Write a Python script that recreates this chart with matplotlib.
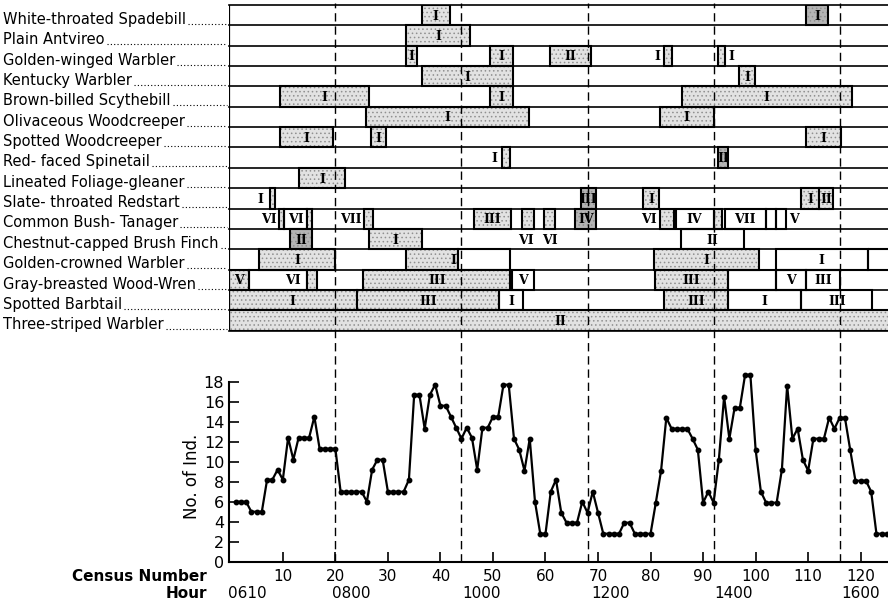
import matplotlib
matplotlib.use("Agg")
import matplotlib.pyplot as plt
from matplotlib.patches import Rectangle
from matplotlib.lines import Line2D
from matplotlib import transforms

plt.rcParams['hatch.linewidth'] = 0.6

# Species (top panel rows, top to bottom)
species = ["White-throated Spadebill", "Plain Antvireo", "Golden-winged Warbler",
           "Kentucky Warbler", "Brown-billed Scythebill", "Olivaceous Woodcreeper",
           "Spotted Woodcreeper", "Red- faced Spinetail", "Lineated Foliage-gleaner",
           "Slate- throated Redstart", "Common Bush- Tanager", "Chestnut-capped Brush Finch",
           "Golden-crowned Warbler", "Gray-breasted Wood-Wren", "Spotted Barbtail",
           "Three-striped Warbler"]

# flock membership per species: (first census, last census, flock type, shading)
# shading: g = stippled, d = dark stipple, w = open
spadebill = [(36.4, 41.8, 'I', 'g'), (109.6, 113.8, 'I', 'd')]
antvireo = [(33.4, 45.7, 'I', 'g')]
golden_winged = [(33.4, 35.6, 'I', 'g'), (49.5, 53.8, 'I', 'g'), (60.8, 68.7, 'II', 'g'),
                 (82.6, 84.0, '', 'g'), (92.9, 94.1, '', 'g')]
kentucky = [(36.4, 53.8, 'I', 'g'), (96.9, 99.9, 'I', 'g')]
scythebill = [(9.4, 26.4, 'I', 'g'), (49.5, 53.8, 'I', 'g'), (85.9, 118.3, 'I', 'g')]
olivaceous = [(25.9, 56.9, 'I', 'g'), (81.8, 92.0, 'I', 'g')]
spotted_wc = [(9.5, 19.5, 'I', 'g'), (26.8, 29.7, 'I', 'g'), (109.6, 116.2, 'I', 'g')]
spinetail = [(51.7, 53.3, '', 'g'), (92.9, 94.8, 'II', 'd')]
foliage_gleaner = [(13.0, 21.9, 'I', 'g')]
redstart = [(7.5, 8.5, '', 'g'), (66.7, 69.7, 'III', 'd'), (78.6, 81.6, 'I', 'g'),
            (108.7, 112.1, 'I', 'g'), (112.1, 114.7, 'II', 'g')]
bush_tanager = [(9.2, 10.3, '', 'g'), (10.3, 14.6, 'VI', 'w'), (14.6, 15.5, '', 'g'),
                (25.5, 27.2, '', 'g'), (46.4, 53.4, 'III', 'g'), (55.5, 57.8, '', 'g'),
                (59.7, 61.9, '', 'g'), (65.7, 69.7, 'IV', 'd'), (81.8, 84.5, '', 'g'),
                (84.8, 92.0, 'IV', 'w'), (92.0, 93.6, '', 'g'), (94.1, 101.9, 'VII', 'w'),
                (101.9, 103.8, '', 'w'), (103.8, 105.7, '', 'w')]
brush_finch = [(11.4, 15.5, 'II', 'd'), (26.4, 36.4, 'I', 'g'), (85.8, 97.7, 'II', 'w')]
golden_crowned = [(5.4, 20.0, 'I', 'g'), (33.4, 43.3, '', 'g'), (43.3, 53.3, '', 'w'),
                  (80.7, 100.7, 'I', 'g'), (103.8, 121.3, 'I', 'w'), (121.3, 126.0, '', 'w')]
wood_wren = [(-0.3, 3.6, 'V', 'g'), (3.6, 14.6, '', 'w'), (14.6, 16.5, '', 'g'),
             (25.3, 53.3, 'III', 'g'), (53.6, 57.8, 'V', 'w'), (80.8, 94.7, 'III', 'g'),
             (94.7, 103.8, '', 'w'), (103.8, 109.6, 'V', 'w'), (109.6, 116.0, 'III', 'w')]
barbtail = [(-0.3, 24.1, 'I', 'g'), (24.1, 51.2, 'III', 'g'), (51.2, 55.7, 'I', 'w'),
            (82.6, 94.8, 'III', 'g'), (94.8, 108.7, 'I', 'w'), (108.7, 122.2, 'III', 'w')]
three_striped = [(-0.3, 126.0, 'II', 'g')]

rows = [spadebill, antvireo, golden_winged, kentucky, scythebill, olivaceous, spotted_wc,
        spinetail, foliage_gleaner, redstart, bush_tanager, brush_finch, golden_crowned,
        wood_wren, barbtail, three_striped]

# flock labels written beside narrow boxes: (row, census, label)
side_labels = [(2, 81.2, 'I'), (2, 95.3, 'I'), (7, 50.3, 'I'), (9, 5.8, 'I'),
               (10, 7.3, 'VI'), (10, 22.9, 'VII'), (10, 79.6, 'VI'), (10, 107.3, 'V'),
               (11, 56.3, 'VI'), (11, 60.8, 'VI'), (12, 42.5, 'I'), (13, 12.0, 'VI')]

# bottom panel: number of individuals per census
census = list(range(1, 126))
individuals = [6.0, 6.0, 6.0, 5.0, 5.0, 5.0, 8.2, 8.2, 9.2, 8.2,
               12.4, 10.2, 12.4, 12.4, 12.4, 14.5, 11.3, 11.3, 11.3, 11.3,
               7.0, 7.0, 7.0, 7.0, 7.0, 6.0, 9.2, 10.2, 10.2, 7.0,
               7.0, 7.0, 7.0, 8.2, 16.7, 16.7, 13.3, 16.7, 17.7, 15.6,
               15.6, 14.5, 13.4, 12.3, 13.4, 12.4, 9.2, 13.4, 13.4, 14.5,
               14.5, 17.7, 17.7, 12.3, 11.2, 9.1, 12.3, 6.0, 2.8, 2.8,
               7.0, 8.2, 4.9, 3.9, 3.9, 3.9, 6.0, 4.9, 7.0, 4.9,
               2.8, 2.8, 2.8, 2.8, 3.9, 3.9, 2.8, 2.8, 2.8, 2.8,
               5.9, 9.1, 14.4, 13.3, 13.3, 13.3, 13.3, 12.3, 11.2, 5.9,
               7.0, 5.9, 10.2, 16.5, 12.3, 15.4, 15.4, 18.7, 18.7, 11.2,
               7.0, 5.9, 5.9, 5.9, 9.2, 17.6, 12.3, 13.3, 10.2, 9.1,
               12.3, 12.3, 12.3, 14.4, 13.3, 14.4, 14.4, 11.2, 8.1, 8.1,
               8.1, 7.0, 2.8, 2.8, 2.8]

hour_marks = [20, 44, 68, 92, 116]
hour_pos = [-0.4, 19.4, 44.1, 68.8, 92.1, 116.4]
hour_labels = ['0610', '0800', '1000', '1200', '1400', '1600']

W, H = 888, 605


def fx(px):
    return px / W


def fy(py):
    return 1 - py / H


fig = plt.figure(figsize=(8.88, 6.05), dpi=100)
xlo, xhi = -0.25, 125.2

# top panel
ax1 = fig.add_axes([fx(229), fy(330.7), fx(888) - fx(229), fy(5) - fy(330.7)])
ax1.set_xlim(xlo, xhi)
ax1.set_ylim(16, 0)
ax1.axis('off')
for i in range(17):
    ax1.plot([xlo, xhi], [i, i], color='k', lw=1.2, clip_on=False)
ax1.plot([xlo, xlo], [0, 16], color='k', lw=1.6)

fills = {'g': '#e2e2e2', 'd': '#b4b4b4', 'w': 'white'}
roman = dict(family='DejaVu Serif', fontweight='bold', fontsize=9)
for i, segs in enumerate(rows):
    for s, e, lab, kind in segs:
        if kind != 'w':
            ax1.add_patch(Rectangle((s, i), e - s, 1, facecolor=fills[kind],
                                    edgecolor='#909090', hatch='....', lw=0))
        ax1.add_patch(Rectangle((s, i), e - s, 1, fill=False, edgecolor='k', lw=1.5))
        if lab:
            ax1.text((s + e) / 2, i + 0.55, lab, ha='center', va='center', **roman)
for i, c, lab in side_labels:
    ax1.text(c, i + 0.55, lab, ha='center', va='center', **roman)

# species names with dotted leaders
blend1 = transforms.blended_transform_factory(fig.transFigure, ax1.transData)
names = []
for i, name in enumerate(species):
    names.append(fig.text(fx(3), i + 0.93, name, transform=blend1, ha='left',
                          va='baseline', fontsize=10.5))

# bottom panel
ax2 = fig.add_axes([fx(229), fy(561.7), fx(888) - fx(229), fy(381.7) - fy(561.7)])
ax2.plot(census, individuals, color='k', lw=1.6, marker='o', ms=3.2, clip_on=False)
ax2.set_xlim(xlo, xhi)
ax2.set_ylim(0, 18)
ax2.spines['top'].set_visible(False)
ax2.spines['right'].set_visible(False)
ax2.spines['left'].set_linewidth(1.5)
ax2.spines['bottom'].set_linewidth(1.5)
ax2.set_xticks(range(10, 121, 10))
ax2.set_yticks(range(0, 19, 2))
ax2.tick_params(direction='in', length=7, width=1.2)
ax2.tick_params(axis='x', pad=5, labelsize=11)
ax2.tick_params(axis='y', labelsize=11.5)
fig.text(fx(192), fy(476.7), 'No. of Ind.', rotation=90, ha='center', va='center', fontsize=12)

blend2 = transforms.blended_transform_factory(ax2.transData, fig.transFigure)
for h in hour_marks:
    ax2.add_line(Line2D([h, h], [fy(561.7), fy(3)], transform=blend2, color='k', lw=1.0,
                        ls=(0, (6, 3.5)), clip_on=False, zorder=5))
for p, lab in zip(hour_pos, hour_labels):
    ax2.text(p, fy(594), lab, transform=blend2, ha='left', va='center', fontsize=11)

fig.text(fx(207), fy(576.5), 'Census Number', ha='right', va='center', fontweight='bold', fontsize=11)
fig.text(fx(207), fy(594), 'Hour', ha='right', va='center', fontweight='bold', fontsize=11)

fig.canvas.draw()
r = fig.canvas.get_renderer()
for i, t in enumerate(names):
    bb = t.get_window_extent(r)
    y = ax1.transData.transform((0, i + 0.93))[1]
    fig.add_artist(Line2D([bb.x1 + 2, 227], [y, y], transform=transforms.IdentityTransform(),
                          color='k', lw=0.8, ls=(0, (1, 2))))

fig.savefig('out.png', dpi=100)
